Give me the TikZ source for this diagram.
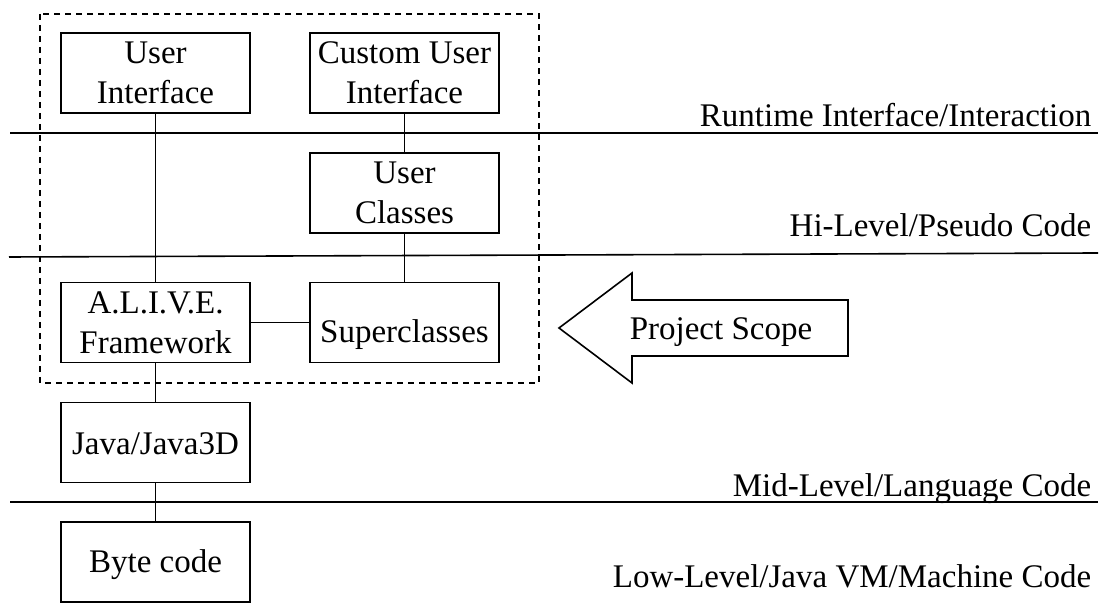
\documentclass[tikz,border=0pt]{standalone}
\usepackage{fontspec}
\setmainfont{Liberation Serif}
\usepackage{tikz}

\begin{document}
\begin{tikzpicture}[x=0.5pt, y=-0.5pt, line width=0.8pt,
    box/.style={rectangle, draw, minimum width=94.5pt, minimum height=40pt, inner sep=0pt, align=center, font=\fontsize{16.5}{20}\selectfont},
    level/.style={anchor=base east, inner sep=0pt, font=\fontsize{16.5}{20}\selectfont}]

    \useasboundingbox (0,0) rectangle (1110,603);

    % Project scope frame
    \draw[line width=0.7pt, dash pattern=on 3pt off 2.5pt] (40,14) rectangle (539,383);

    % Layer lines
    \draw (10,133) -- (1098,133);
    \draw (9,257) -- (1098,253);
    \draw (10,502) -- (1098,502);

    % Layer labels
    \node[level] (runtime) at (1092,127) {Runtime Interface/Interaction};
    \node[level] (hilevel) at (1092,237) {Hi-Level/Pseudo Code};
    \node[level] (midlevel) at (1092,497) {Mid-Level/Language Code};
    \node[level] (lowlevel) at (1092,588) {Low-Level/Java VM/Machine Code};

    % Boxes
    \node[box] (ui) at (155.5,73) {User\\Interface};
    \node[box] (customui) at (404.5,73) {Custom User\\Interface};
    \node[box] (userclasses) at (404.5,193) {User\\Classes};
    \node[box] (alive) at (155.5,322.5) {A.L.I.V.E.\\Framework};
    \node[box, text height=20.5pt, text depth=0pt] (superclasses) at (404.5,322.5) {Superclasses};
    \node[box, text height=12.5pt, text depth=0pt] (java) at (155.5,442.5) {Java/Java3D};
    \node[box, text height=11pt, text depth=0pt] (bytecode) at (155.5,562) {Byte code};

    % Connections
    \draw (ui) -- (alive);
    \draw (customui) -- (userclasses);
    \draw (userclasses) -- (superclasses);
    \draw (alive) -- (superclasses);
    \draw (alive) -- (java);
    \draw (java) -- (bytecode);

    % Project scope arrow
    \draw (559,328) -- (632,273) -- (632,300) -- (848,300) -- (848,356) -- (632,356) -- (632,383) -- cycle;
    \node[inner sep=0pt, font=\fontsize{16.5}{20}\selectfont] (scope) at (721,332) {Project Scope};
\end{tikzpicture}
\end{document}
